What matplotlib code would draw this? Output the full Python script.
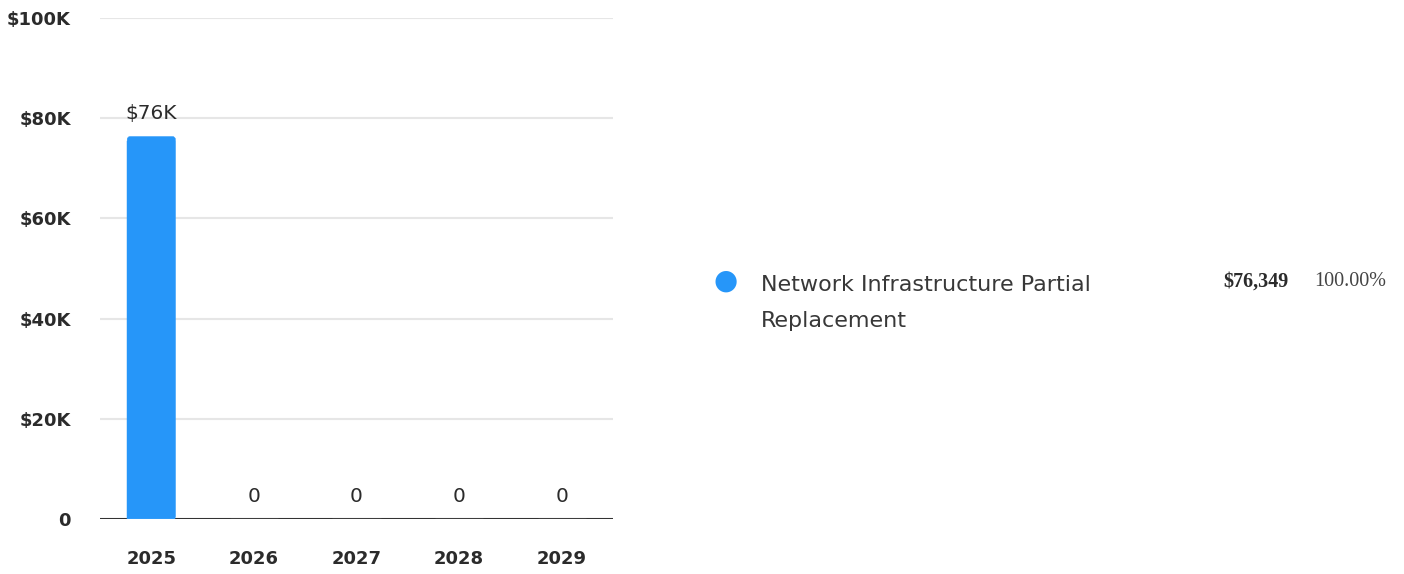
import matplotlib
matplotlib.use("Agg")
import matplotlib.pyplot as plt
from matplotlib.patches import FancyBboxPatch, Rectangle

years = ["2025", "2026", "2027", "2028", "2029"]
costs = [76349, 0, 0, 0, 0]
bar_labels = ["$76K", "0", "0", "0", "0"]
y_ticks = [0, 20000, 40000, 60000, 80000, 100000]
y_tick_labels = ["0", "$20K", "$40K", "$60K", "$80K", "$100K"]
legend_name = ["Network Infrastructure Partial", "Replacement"]
legend_total = "$76,349"
legend_share = "100.00%"

BLUE = "#2696f9"
INK = "#2b2b2b"
plt.rcParams["font.family"] = ["DejaVu Sans"]

W, H = 1404, 574
fig = plt.figure(figsize=(W / 100, H / 100), dpi=100)
ax = fig.add_axes([100 / W, 55 / H, 513 / W, 501 / H])

ax.set_xlim(-0.5, len(years) - 0.5)
ax.set_ylim(0, 100000)

x = list(range(len(years)))
bars = ax.bar(x, costs, width=0.47, color=BLUE, edgecolor="white",
              linewidth=0.8, zorder=3)

# data units per pixel, used to round the bar tops by a few pixels
x_per_px = len(years) / 513
y_per_px = 100000 / 501
aspect = y_per_px / x_per_px
for rect, val in zip(bars, costs):
    if val > 0:
        rect.set_visible(False)
        bx, by = rect.get_x(), rect.get_y()
        w, h = rect.get_width(), rect.get_height()
        ax.add_patch(FancyBboxPatch((bx, by), w, h,
                                    boxstyle="round,pad=0,rounding_size=%f" % (3 * x_per_px),
                                    mutation_aspect=aspect,
                                    facecolor=BLUE, edgecolor=BLUE,
                                    linewidth=0.3, zorder=3))
        ax.add_patch(Rectangle((bx, by), w, h - 5 * y_per_px, facecolor=BLUE,
                               edgecolor=BLUE, linewidth=0.3, zorder=3))
        ax.add_patch(Rectangle((bx, by), w, 0, facecolor="none",
                               edgecolor="white", linewidth=0.8, zorder=3.5))

for xi, val, lab in zip(x, costs, bar_labels):
    ax.annotate(lab, (xi, val), xytext=(0, 9.5), textcoords="offset points",
                ha="center", va="bottom", fontsize=14.5, color=INK, zorder=4)

ax.set_yticks(y_ticks)
ax.set_yticklabels(y_tick_labels, fontsize=13, fontweight="bold", color=INK)
ax.set_xticks(x)
ax.set_xticklabels(years, fontsize=13, fontweight="bold", color=INK)
ax.tick_params(axis="y", length=0, pad=21)
ax.tick_params(axis="x", length=0, pad=22)

ax.grid(axis="y", color="#e6e6e6", linewidth=1.5, zorder=0)
ax.axhline(0, color="#333333", linewidth=2.2, zorder=2)
for side in ("top", "right", "left", "bottom"):
    ax.spines[side].set_visible(False)

# legend panel on the right
fig.text(726 / W, 1 - 281 / H, "\u25CF", fontsize=20, color=BLUE,
         ha="center", va="center")
for i, line in enumerate(legend_name):
    fig.text(761 / W, 1 - (283 + 36 * i) / H, line, fontsize=16, color="#383838",
             ha="left", va="center_baseline")
fig.text(1223 / W, 1 - 282 / H, legend_total, fontsize=14.5,
         fontweight="bold", family="Liberation Serif", color=INK,
         ha="left", va="center")
fig.text(1314 / W, 1 - 282 / H, legend_share, fontsize=14.5,
         family="Liberation Serif", color="#444444", ha="left", va="center")

fig.savefig("out.png", dpi=100)
